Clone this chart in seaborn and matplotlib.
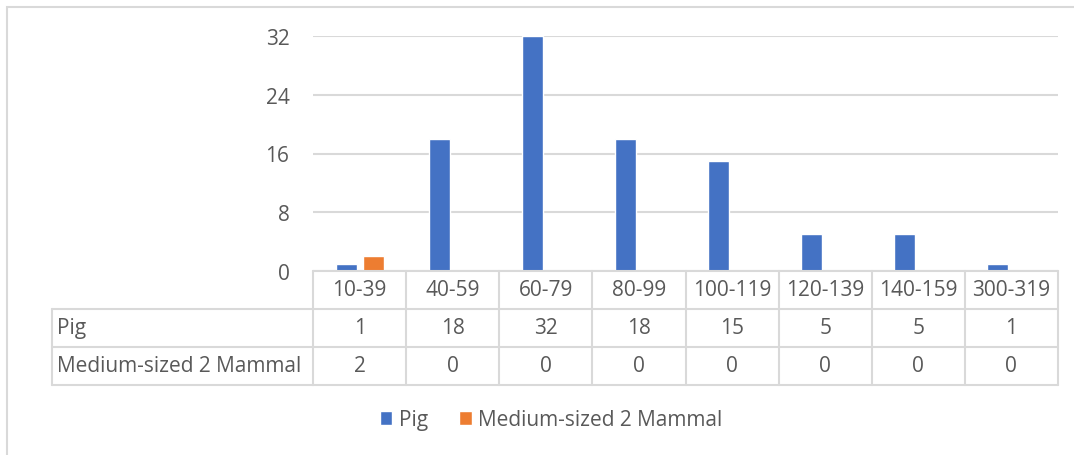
import matplotlib
matplotlib.use("Agg")
import matplotlib.pyplot as plt
import matplotlib.transforms as mtransforms
from matplotlib.patches import Rectangle, Patch
from matplotlib.lines import Line2D
import pandas as pd
import seaborn as sns

# data
categories = ["10-39", "40-59", "60-79", "80-99", "100-119", "120-139", "140-159", "300-319"]
pig = [1, 18, 32, 18, 15, 5, 5, 1]
mammal = [2, 0, 0, 0, 0, 0, 0, 0]
series_names = ["Pig", "Medium-sized 2 Mammal"]
colors = {"Pig": "#4472C4", "Medium-sized 2 Mammal": "#ED7D31"}

df = pd.DataFrame({
    "Range": categories * 2,
    "Count": pig + mammal,
    "Series": [series_names[0]] * len(pig) + [series_names[1]] * len(mammal),
})

sns.set_style("white")
plt.rcParams["font.family"] = ["Open Sans", "DejaVu Sans"]
text_col = "#595959"
line_col = "#D9D9D9"
fs = 15

W, H = 1074, 456
fig = plt.figure(figsize=(W / 100, H / 100), dpi=100)

def fx(px):
    return px / W

def fy(py):
    return 1 - py / H

ax = fig.add_axes([fx(313), fy(272), fx(1058) - fx(313), fy(37) - fy(272)])
sns.barplot(data=df, x="Range", y="Count", hue="Series", order=categories,
            hue_order=series_names, palette=colors, width=0.58, gap=0.22,
            saturation=1, ax=ax, legend=False)

ax.set_ylim(0, 32)
ax.set_xlim(-0.5, len(categories) - 0.5)
ax.set_yticks([0, 8, 16, 24, 32])
ax.yaxis.grid(True, color=line_col, linewidth=1.5)
ax.set_axisbelow(True)
ax.set_xlabel("")
ax.set_ylabel("")
ax.set_xticks([])
ax.tick_params(axis="y", length=0, pad=17, labelsize=fs, labelcolor=text_col)
for s in ax.spines.values():
    s.set_visible(False)

# data table under the plot
tr = mtransforms.blended_transform_factory(ax.transData, fig.transFigure)
rows_y = [272, 310, 348, 386]
left_x = 52
lw = 1.5

def fig_line(x0, x1, y0, y1):
    fig.add_artist(Line2D([fx(x0), fx(x1)], [fy(y0), fy(y1)], color=line_col,
                          linewidth=lw, transform=fig.transFigure))

n = len(categories)
# horizontal lines
ax.plot([-0.5, n - 0.5], [fy(272)] * 2, transform=tr, color=line_col, lw=lw, clip_on=False)
for yy in rows_y[1:]:
    fig_line(left_x, 313, yy, yy)
    ax.plot([-0.5, n - 0.5], [fy(yy)] * 2, transform=tr, color=line_col, lw=lw, clip_on=False)
# vertical lines
fig_line(left_x, left_x, 310, 386)
for i in range(n + 1):
    ax.plot([i - 0.5, i - 0.5], [fy(272), fy(386)], transform=tr, color=line_col,
            lw=lw, clip_on=False)

centers_y = [(rows_y[k] + rows_y[k + 1]) / 2 for k in range(3)]
for i, c in enumerate(categories):
    ax.text(i, fy(centers_y[0]), c, transform=tr, ha="center", va="center",
            fontsize=fs, color=text_col)
    ax.text(i, fy(centers_y[1]), str(pig[i]), transform=tr, ha="center", va="center",
            fontsize=fs, color=text_col)
    ax.text(i, fy(centers_y[2]), str(mammal[i]), transform=tr, ha="center", va="center",
            fontsize=fs, color=text_col)
fig.text(fx(57), fy(centers_y[1]), series_names[0], ha="left", va="center",
         fontsize=fs, color=text_col)
fig.text(fx(57), fy(centers_y[2]), series_names[1], ha="left", va="center",
         fontsize=fs, color=text_col)

# legend
handles = [Patch(facecolor=colors[s], label=s) for s in series_names]
fig.legend(handles=handles, loc="center", bbox_to_anchor=(fx(551), fy(421)), ncol=2,
           frameon=False, fontsize=fs, labelcolor=text_col, handlelength=0.62,
           handleheight=0.62, handletextpad=0.3, columnspacing=1.5)

# chart border
fig.add_artist(Rectangle((fx(7), fy(470)), fx(1200), fy(8) - fy(470), fill=False,
                         edgecolor=line_col, linewidth=1.5, transform=fig.transFigure))

fig.savefig("out.png", dpi=100, facecolor="white")
